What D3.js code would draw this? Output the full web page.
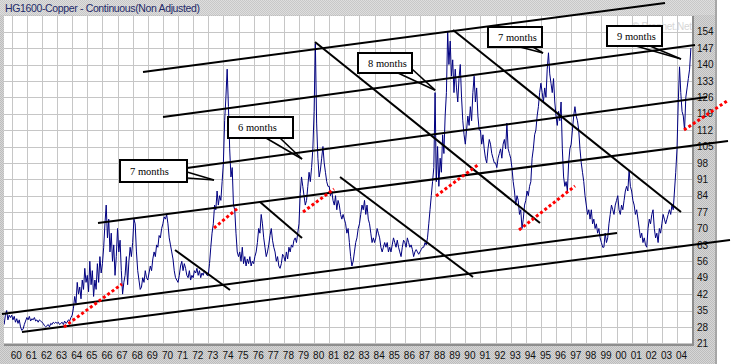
<!DOCTYPE html>
<html>
<head>
<meta charset="utf-8">
<script src="https://cdn.jsdelivr.net/npm/d3@7/dist/d3.min.js"></script>
<style>
html,body{margin:0;padding:0;background:#fff;}
svg{display:block;}
</style>
</head>
<body>
<svg id="chart" width="732" height="364"></svg>
<script>
// ---------------- data ----------------
const chartTitle = "HG1600-Copper - Continuous(Non Adjusted)";
const watermark = "\u00A9 Prophet.Net";
const xTickLabels = ["60","61","62","63","64","65","66","67","68","69","70","71","72","73","74","75","76","77","78","79","80","81","82","83","84","85","86","87","88","89","90","91","92","93","94","95","96","97","98","99","00","01","02","03","04"];
const firstTickYear = 1960;
const yTickValues = [21,28,35,42,49,56,63,70,77,84,91,98,105,112,119,126,133,140,147,154];

// monthly closes (cents/lb), first value = Jul 1959
const seriesStart = 1959.5;
const prices1959 = [29,33,35,31,33,32];
const prices1960s = [
  33,31,32.5,30,31.5,29.5,31,28,26.5,27,29,30.5,
  32,31,32.5,30.5,31.5,31,32,30.5,31,30,31,30.5,
  30,29.5,28.5,28,28.5,29,28,29.5,29,30,29.5,30,
  29.5,30,29,29.5,30,29,30.5,29.5,30,31,30.5,32,
  33,36,41,38,47,42,45,40,48,44,53,47,
  50,43,56,46,52,41,48,44,55,47,58,51,
  55,62,72,80,66,74,60,68,56,63,50,58,
  70,60,65,52,42,47,50,58,46,56,62,58,
  64,74,72,60,52,48,44,45,49,47,52,49,
  48,51,54,52,57,60,58,63,62,67,66,70];
const prices1970s = [
  72,75,74,76,72,66,63,60,57,52,49,48,
  47,50,54,56,52,55,53,50,49,52,48,50,
  49,52,51,53,50,52,49,51,50,52,51,50,
  50,55,62,68,72,80,78,86,80,84,82,90,
  98,116,126,138,122,104,92,96,80,78,68,60,
  58,60,56,62,55,58,54,57,55,58,54,56,
  55,58,60,64,70,68,76,72,66,62,58,60,
  63,67,70,65,62,60,56,58,54,53,55,59,
  58,56,60,57,62,60,63,62,65,66,64,68,
  72,85,92,88,84,80,82,88,94,90,96,104];
const prices1980s = [
  120,149,115,100,92,95,100,105,98,94,90,88,
  88,84,86,82,80,84,78,82,80,76,74,76,
  74,72,68,70,64,58,54,56,60,64,66,70,
  72,76,80,78,82,76,80,74,72,68,64,66,
  64,66,70,68,66,62,60,62,64,62,64,60,
  62,60,63,66,64,62,65,62,60,58,62,65,
  64,62,66,64,62,63,61,58,60,61,60,59,
  60,61,62,62,64,63,66,72,78,84,90,96,
  128,90,105,88,100,94,110,102,118,128,154,140,
  150,135,142,128,138,130,124,134,140,126,116,110];
const prices1990s = [
  106,112,118,114,122,116,128,135,124,130,118,112,
  112,106,110,104,100,98,104,108,106,102,100,98,
  98,96,100,102,104,100,106,108,104,115,104,102,
  100,96,90,86,80,84,82,76,78,70,74,80,
  82,86,84,88,90,100,104,110,112,118,122,128,
  132,128,124,130,126,138,145,136,132,128,134,124,
  118,114,120,116,124,104,92,88,90,86,98,104,
  106,112,118,122,118,116,112,104,98,94,90,84,
  80,76,78,74,78,72,74,70,72,68,70,66,
  64,62,62,68,64,66,72,76,80,78,76,80];
const prices2000s = [
  82,84,78,76,80,78,82,86,88,86,95,88,
  86,82,80,76,78,74,70,66,68,64,66,63,
  62,70,74,72,76,78,70,66,68,64,70,68,
  72,76,74,72,74,76,78,76,80,78,86,94,
  104,124,139,128,120,118,112,126,130,134,138,147];

// trend lines: [year1, price1, year2, price2]
const channelLines = [
  [1959.358,33.51,2000.033,68.08],
  [1960.681,25.82,2007.507,65.09],
  [1965.708,72.35,2007.374,107.35],
  [1971.594,95.83,2005.986,126.13],
  [1970.007,117.59,2005.192,148.32],
  [1968.684,136.80,2003.208,166.25]];
const downtrendLines = [
  [1970.801,60.82,1974.438,43.75],
  [1976.422,81.31,1979.200,65.95],
  [1980.060,149.60,1994.940,72.35],
  [1981.713,91.98,1990.509,49.30],
  [1989.187,154.73,2004.266,77.04]];
const accelerationLines = [
  [1963.459,27.96,1967.295,46.31],
  [1973.380,70.21,1974.967,78.75],
  [1979.266,77.04,1981.316,86.86],
  [1988.062,83.87,1990.906,97.53],
  [1993.552,69.36,1997.255,88.14],
  [2004.464,112.04,2007.308,124.42]];

const calloutLabels = ["7 months","6 months","8 months","7 months","9 months"];
const calloutBoxAt = [[1967.163,99.24],[1974.306,117.40],[1982.903,144.91],[1991.501,156.00],[1999.372,156.43]];
const calloutTips = [[1973.380,90.70],[1979.200,99.67],[1988.003,129.03],[1995.139,144.91],[2004.266,142.35]];

// ---------------- layout / style ----------------
const calloutLayout = [
  {w:67,h:22,base:[[67,12],[67,18]]},
  {w:65,h:21,base:[[38,21],[52,21]]},
  {w:54,h:20,base:[[40,20],[54,16]]},
  {w:54,h:20,base:[[32,20],[45,20]]},
  {w:55,h:20,base:[[29,20],[43,20]]}];

const svg = d3.select("#chart");
const plot = {left:4, top:16, right:692, bottom:344};
const x = d3.scaleLinear().domain([1960,2004]).range([11.7,677]);
const y = d3.scaleLinear().domain([21,154]).range([343.3,31.7]);
const xr = x.copy().interpolate(d3.interpolateRound);
const yr = y.copy().interpolate(d3.interpolateRound);

const defs = svg.append("defs");
function dither(id, base, dot){
  const p = defs.append("pattern").attr("id",id).attr("width",2).attr("height",2)
    .attr("patternUnits","userSpaceOnUse");
  p.append("rect").attr("width",2).attr("height",2).attr("fill",base);
  p.append("rect").attr("width",1).attr("height",1).attr("fill",dot);
  p.append("rect").attr("x",1).attr("y",1).attr("width",1).attr("height",1).attr("fill",dot);
}
dither("panel","#d6d6d6","#bdbdbd");
dither("titlebar","#dedede","#c8c8c8");
defs.append("clipPath").attr("id","plotclip").append("rect")
  .attr("x",plot.left).attr("y",plot.top)
  .attr("width",plot.right-plot.left).attr("height",plot.bottom-plot.top);

// frame
svg.append("rect").attr("x",0).attr("y",0).attr("width",717).attr("height",364).attr("fill","url(#panel)");
svg.append("rect").attr("x",0).attr("y",0).attr("width",717).attr("height",15).attr("fill","url(#titlebar)");
svg.append("rect").attr("x",715).attr("y",0).attr("width",2).attr("height",364).attr("fill","#a6a6a6");
svg.append("rect").attr("x",plot.left).attr("y",plot.top)
  .attr("width",plot.right-plot.left).attr("height",plot.bottom-plot.top).attr("fill","#fff");

// grid via axes
const years = xTickLabels.map((d,i)=>firstTickYear+i);
svg.append("g").attr("transform",`translate(0,${plot.bottom})`)
  .call(d3.axisBottom(xr).tickValues(years).tickSize(-(plot.bottom-plot.top)).tickFormat(""))
  .call(g=>{g.select(".domain").remove(); g.selectAll("line").attr("stroke","#c6c6c6");});
svg.append("g").attr("transform",`translate(${plot.right},0)`)
  .call(d3.axisRight(yr).tickValues(yTickValues).tickSize(-(plot.right-plot.left)).tickFormat(""))
  .call(g=>{g.select(".domain").remove(); g.selectAll("line").attr("stroke","#c6c6c6");});

// plot border (bottom/right)
svg.append("rect").attr("x",plot.left).attr("y",plot.bottom).attr("width",plot.right-plot.left+2).attr("height",2).attr("fill","#8e8e8e");
svg.append("rect").attr("x",plot.right).attr("y",plot.top).attr("width",2).attr("height",plot.bottom-plot.top+2).attr("fill","#8e8e8e");

// tick labels
svg.append("g").attr("transform","translate(697,0)")
  .call(d3.axisRight(y).tickValues(yTickValues).tickSize(0).tickPadding(0).tickFormat(d3.format("d")))
  .call(g=>{g.select(".domain").remove();
    g.selectAll("text").attr("font-family","'Liberation Sans',Arial,sans-serif").attr("font-size",10)
      .attr("fill","#111").attr("text-anchor","start");});
svg.append("g").attr("transform","translate(0,351.6)")
  .call(d3.axisBottom(x).tickValues(years).tickSize(0).tickPadding(0).tickFormat((d,i)=>xTickLabels[i]))
  .call(g=>{g.select(".domain").remove();
    g.selectAll("text").attr("font-family","'Liberation Sans',Arial,sans-serif").attr("font-size",10)
      .attr("fill","#111").attr("text-anchor","start").attr("x",-1.5);});

// watermark
svg.append("text").attr("x",632).attr("y",29.5).text(watermark)
  .attr("font-family","'Liberation Sans',Arial,sans-serif").attr("font-size",10)
  .attr("fill","#d6d6d6").attr("textLength",60);

// series
const prices = [].concat(prices1959,prices1960s,prices1970s,prices1980s,prices1990s,prices2000s);
const series = prices.map((v,i)=>({t:seriesStart+i/12, v}));
svg.append("path").datum(series).attr("clip-path","url(#plotclip)")
  .attr("d",d3.line().x(d=>x(d.t)).y(d=>y(d.v)))
  .attr("fill","none").attr("stroke","#000080").attr("stroke-width",1);

// trend lines
function drawLines(data, stroke, width, dash){
  svg.append("g").selectAll("line").data(data).join("line")
    .attr("x1",d=>x(d[0])).attr("y1",d=>y(d[1]))
    .attr("x2",d=>x(d[2])).attr("y2",d=>y(d[3]))
    .attr("stroke",stroke).attr("stroke-width",width)
    .attr("stroke-dasharray",dash||null);
}
drawLines(channelLines,"#000",2);
drawLines(downtrendLines,"#000",2);
drawLines(accelerationLines,"#ff0000",3,"3,2.4");

// callouts
const cg = svg.append("g");
calloutLabels.forEach((lab,i)=>{
  const L = calloutLayout[i];
  const bx = Math.round(x(calloutBoxAt[i][0])), by = Math.round(y(calloutBoxAt[i][1]));
  const tx = x(calloutTips[i][0]), ty = y(calloutTips[i][1]);
  L.base.forEach(b=>{
    cg.append("line").attr("x1",bx+b[0]).attr("y1",by+b[1]).attr("x2",tx).attr("y2",ty)
      .attr("stroke","#000").attr("stroke-width",1.6);
  });
  cg.append("rect").attr("x",bx).attr("y",by).attr("width",L.w).attr("height",L.h)
    .attr("fill","#fff").attr("stroke","#000").attr("stroke-width",2);
  cg.append("text").attr("x",bx+10).attr("y",by+L.h/2+3.5).text(lab)
    .attr("font-family","'Liberation Serif','Times New Roman',serif").attr("font-size",10.5).attr("fill","#000");
});

// title
svg.append("text").attr("x",5).attr("y",12).text(chartTitle)
  .attr("font-family","'Liberation Sans',Arial,sans-serif").attr("font-size",10.5)
  .attr("fill","#1f2a68").attr("textLength",195);
</script>
</body>
</html>
